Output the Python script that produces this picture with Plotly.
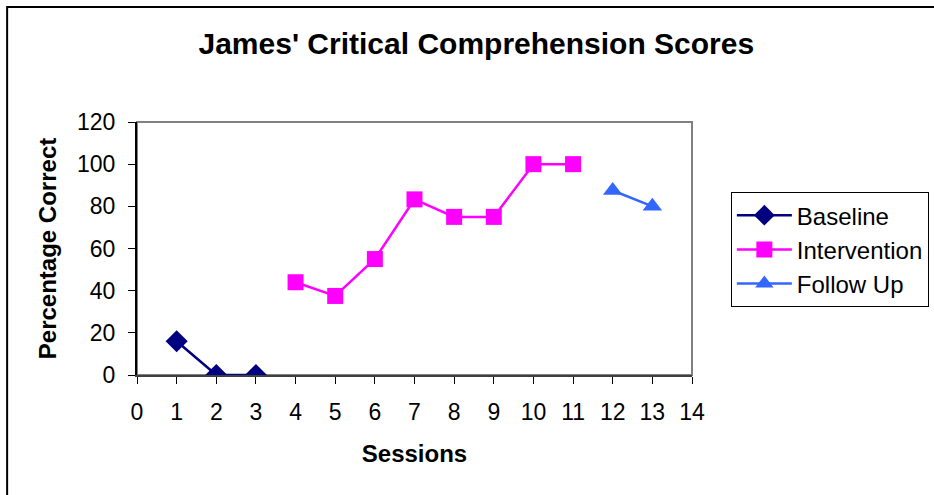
import plotly.graph_objects as go

# data
baseline_x = [1, 2, 3]
baseline_y = [16, 0, 0]
intervention_x = [4, 5, 6, 7, 8, 9, 10, 11]
intervention_y = [44, 37.5, 55, 83.3, 75, 75, 100, 100]
followup_x = [12, 13]
followup_y = [87.5, 80]

font = "Liberation Sans, Arial, sans-serif"

fig = go.Figure()
fig.add_trace(go.Scatter(x=baseline_x, y=baseline_y, mode='lines+markers', name='Baseline',
                         line=dict(color='#000080', width=2.5),
                         marker=dict(symbol='diamond', size=17, color='#000080')))
fig.add_trace(go.Scatter(x=intervention_x, y=intervention_y, mode='lines+markers', name='Intervention',
                         line=dict(color='#FF00FF', width=2.5),
                         marker=dict(symbol='square', size=16, color='#FF00FF')))
fig.add_trace(go.Scatter(x=followup_x, y=followup_y, mode='lines+markers', name='Follow Up',
                         line=dict(color='#3366FF', width=2.5),
                         marker=dict(symbol='triangle-up', size=17, color='#3366FF')))

# рамка вокруг графика и области построения
fig.add_shape(type='rect', xref='paper', yref='paper', x0=-0.234, y0=-2, x1=3, y1=1.455,
              line=dict(color='black', width=2), layer='below')
fig.add_shape(type='rect', xref='paper', yref='paper', x0=0, y0=0, x1=1, y1=1,
              line=dict(color='#808080', width=2), layer='below')

fig.update_layout(
    width=934, height=495,
    margin=dict(l=137, r=242, t=122, b=120, autoexpand=False),
    paper_bgcolor='white', plot_bgcolor='white',
    font=dict(family=font, size=20, color='black'),
    title=dict(text="<b>James' Critical Comprehension Scores</b>", x=0.51, xanchor='center',
               y=0.913, yanchor='middle', font=dict(size=30)),
    legend=dict(x=1.07, y=0.723, xanchor='left', yanchor='top', bordercolor='black', borderwidth=1,
                font=dict(size=24), itemwidth=55),
)
fig.update_xaxes(range=[0, 14], tickmode='linear', tick0=0, dtick=1, showgrid=False, zeroline=False,
                 showline=True, linecolor='#404040', linewidth=2, ticks='outside', ticklen=7,
                 tickcolor='black', tickfont=dict(size=23), ticklabelstandoff=8,
                 title=dict(text='<b>Sessions</b>', standoff=22))
fig.update_yaxes(range=[0, 120], tickmode='linear', tick0=0, dtick=20, showgrid=False, zeroline=False,
                 showline=True, linecolor='black', linewidth=2, ticks='outside', ticklen=7,
                 tickcolor='black', tickfont=dict(size=23), ticklabelstandoff=8,
                 title=dict(text='<b>Percentage Correct</b>', standoff=14))

# убираем отступы страницы, чтобы график встал на своё место
fig.write_html("out.html", config={'displayModeBar': False},
               post_script="document.body.style.margin='0';")
